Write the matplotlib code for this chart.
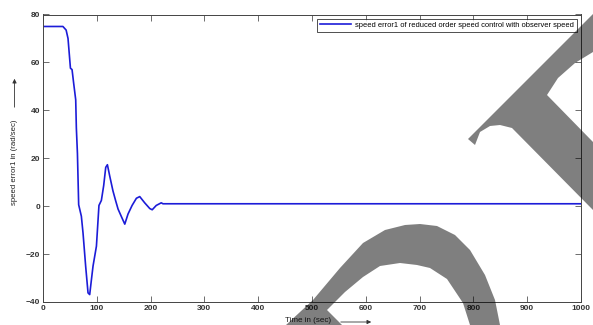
import numpy as np
import matplotlib.pyplot as plt
from matplotlib.patches import Polygon

# speed error trace
t = [0, 37, 43, 46.5, 51, 54, 57, 60.8, 62, 64, 66.3, 71.3, 74.4, 79.3, 83.7, 86.8,
     90, 93, 99.3, 104, 108.5, 112.8, 116.6, 119.7, 124, 130, 135, 139.5, 146, 152,
     158, 165.6, 173.6, 179.8, 189, 198.5, 203, 210.5, 219.8, 223, 1000]
err = [75, 75, 73.5, 70, 57.6, 57, 51.3, 44.4, 32.6, 22, 0.6, -4.2, -11.2, -25.1, -36.2, -36.9,
       -30.7, -25, -16.7, 0.3, 2.4, 8.6, 16.2, 17.3, 12.6, 6.4, 2.3, -1.2, -4.5, -7.5,
       -3.3, 0.3, 3.3, 4, 1.4, -1, -1.5, 0.3, 1.4, 1, 1]

xticks = np.arange(0, 1001, 100)
yticks = np.arange(-40, 81, 20)
legend_label = 'speed error1 of reduced order speed control with observer speed'

W, H = 593, 325
fig = plt.figure(figsize=(W / 100, H / 100), dpi=100)
plt.rcParams['font.family'] = ['Liberation Sans', 'DejaVu Sans']
ax = fig.add_axes([43 / W, 1 - 302 / H, (581 - 43) / W, (302 - 14.5) / H])

ax.plot(t, err, color='#1c1cd8', lw=1.2, label=legend_label)
ax.set_xlim(0, 1000)
ax.set_ylim(-40, 80)
ax.set_xticks(xticks)
ax.set_yticks(yticks)
ax.tick_params(direction='in', top=True, right=True, length=4, width=0.6,
               labelsize=6, labelcolor='#333333', pad=2, color='#555555')
for lab in ax.get_xticklabels() + ax.get_yticklabels():
    lab.set_fontweight('bold')
for s in ax.spines.values():
    s.set_linewidth(0.7)
    s.set_color('#444444')

leg = ax.legend(loc='upper right', fontsize=5.4, frameon=True, fancybox=False,
                borderpad=0.35, handlelength=4.2, handletextpad=0.5,
                borderaxespad=0.6)
leg.get_frame().set_edgecolor('black')
leg.get_frame().set_linewidth(0.6)

# axis labels with arrows
fig.text(14.5 / W, 1 - 162 / H, 'speed error1 in (rad/sec)', rotation=90,
         ha='center', va='center', fontsize=5.6, color='#222222')
fig.patches.append(plt.matplotlib.patches.FancyArrowPatch(
    (14.5 / W, 1 - 110 / H), (14.5 / W, 1 - 76 / H), transform=fig.transFigure,
    arrowstyle='-|>', mutation_scale=6, lw=0.6, color='#333333'))
fig.text(308 / W, 1 - 321 / H, 'Time in (sec)', ha='center', va='center',
         fontsize=5.8, color='#222222')
fig.patches.append(plt.matplotlib.patches.FancyArrowPatch(
    (338 / W, 1 - 322 / H), (374 / W, 1 - 322 / H), transform=fig.transFigure,
    arrowstyle='-|>', mutation_scale=6, lw=0.6, color='#333333'))

# watermark shapes
def px(pts):
    return [(x / W, 1 - y / H) for x, y in pts]

wm1 = [(468, 139), (593, 14), (593, 52), (575, 63), (558, 78), (547, 95), (593, 142),
       (593, 210), (512, 128), (500, 125), (490, 126), (480, 132), (475, 145)]
wm2 = [(286, 325), (313, 300), (340, 268), (363, 243), (385, 230), (405, 225), (420, 224),
       (437, 226), (455, 235), (470, 250), (485, 275), (495, 300), (500, 325),
       (470, 325), (463, 303), (447, 279), (430, 268), (417, 265), (400, 263),
       (380, 266), (363, 277), (345, 292), (336, 301), (327, 310), (342, 325)]
for pts in (wm1, wm2):
    fig.patches.append(Polygon(px(pts), closed=True, transform=fig.transFigure,
                               facecolor='black', edgecolor='none', alpha=0.5, zorder=10))

fig.savefig('out.png', dpi=100)
